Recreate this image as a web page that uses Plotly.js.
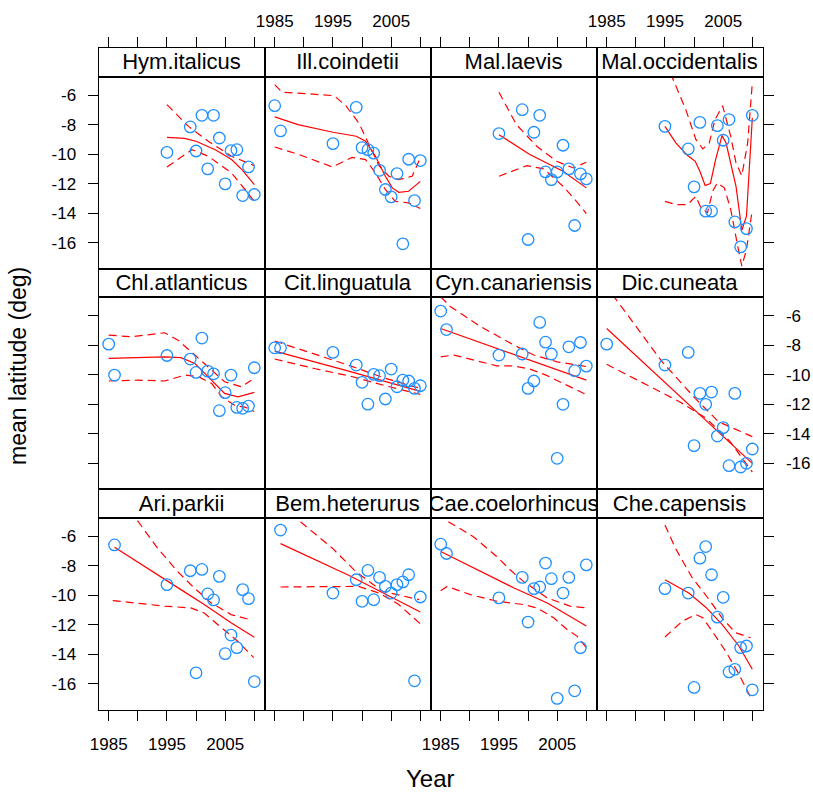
<!DOCTYPE html>
<html><head><meta charset="utf-8">
<script src="https://cdn.plot.ly/plotly-3.0.1.min.js"></script>
<style>html,body{margin:0;padding:0;background:#fff}#chart{width:813px;height:794px}</style>
</head><body><div id="chart"></div>
<script>
// ---------- categories & tick labels ----------
const species = ["Hym.italicus","Ill.coindetii","Mal.laevis","Mal.occidentalis",
                 "Chl.atlanticus","Cit.linguatula","Cyn.canariensis","Dic.cuneata",
                 "Ari.parkii","Bem.heterurus","Cae.coelorhincus","Che.capensis"];
const xTickVals = [1985,1990,1995,2000,2005,2010];
const xTickText = ["1985","","1995","","2005",""];
const yTickVals = [-6,-8,-10,-12,-14,-16];
const yTickText = ["-6","-8","-10","-12","-14","-16"];
const xTitle = "Year";
const yTitle = "mean latitude (deg)";

// ---------- data: observed points ----------
const hymYear = [1995,1999,2000,2001,2002,2003,2004,2005,2006,2007,2008,2009,2010];
const hymLat  = [-9.88,-8.16,-9.79,-7.37,-11.0,-7.37,-8.91,-12.02,-9.76,-9.70,-12.81,-10.87,-12.74];
const illYear = [1985,1986,1995,1999,2000,2001,2002,2003,2004,2005,2006,2007,2008,2009,2010];
const illLat  = [-6.72,-8.43,-9.29,-6.83,-9.56,-9.70,-9.94,-11.1,-12.4,-12.9,-11.32,-16.08,-10.35,-13.15,-10.44];
const malYear = [1995,1999,2000,2001,2002,2003,2004,2005,2006,2007,2008,2009,2010];
const malLat  = [-8.61,-6.99,-15.79,-8.52,-7.37,-11.21,-11.73,-11.21,-9.40,-11.0,-14.84,-11.34,-11.68];
const mocYear = [1995,1999,2000,2001,2002,2003,2004,2005,2006,2007,2008,2009,2010];
const mocLat  = [-8.12,-9.65,-12.22,-7.85,-13.87,-13.87,-8.07,-9.06,-7.66,-14.6,-16.29,-15.05,-7.37];
const chlYear = [1985,1986,1995,1999,2000,2001,2002,2003,2004,2005,2006,2007,2008,2009,2010];
const chlLat  = [-7.93,-10.03,-8.7,-8.94,-9.85,-7.52,-9.76,-9.94,-12.44,-11.22,-10.03,-12.22,-12.28,-12.13,-9.53];
const citYear = [1985,1986,1995,1999,2000,2001,2002,2003,2004,2005,2006,2007,2008,2009,2010];
const citLat  = [-8.18,-8.18,-8.49,-9.35,-10.52,-12.0,-9.98,-10.07,-11.65,-9.62,-10.82,-10.37,-10.43,-10.93,-10.75];
const cynYear = [1985,1986,1995,1999,2000,2001,2002,2003,2004,2005,2006,2007,2008,2009,2010];
const cynLat  = [-5.69,-6.94,-8.67,-8.6,-10.93,-10.43,-6.46,-7.8,-8.6,-15.67,-12.01,-8.11,-9.73,-7.82,-9.42];
const dicYear = [1985,1995,1999,2000,2001,2002,2003,2004,2005,2006,2007,2008,2009,2010];
const dicLat  = [-7.93,-9.35,-8.49,-14.81,-11.27,-12.01,-11.18,-14.16,-13.59,-16.17,-11.27,-16.26,-16.01,-15.04];
const ariYear = [1986,1995,1999,2000,2001,2002,2003,2004,2005,2006,2007,2008,2009,2010];
const ariLat  = [-6.59,-9.28,-8.34,-15.26,-8.25,-9.91,-10.32,-8.72,-13.96,-12.7,-13.55,-9.62,-10.23,-15.85];
const bemYear = [1986,1995,1999,2000,2001,2002,2003,2004,2005,2006,2007,2008,2009,2010];
const bemLat  = [-5.58,-9.85,-8.95,-10.41,-8.32,-10.3,-8.79,-9.4,-9.85,-9.28,-9.1,-8.61,-15.8,-10.12];
const caeYear = [1985,1986,1995,1999,2000,2001,2002,2003,2004,2005,2006,2007,2008,2009,2010];
const caeLat  = [-6.54,-7.17,-10.18,-8.79,-11.82,-9.55,-9.44,-7.82,-8.88,-16.99,-9.85,-8.79,-16.48,-13.55,-7.94];
const cheYear = [1995,1999,2000,2001,2002,2003,2004,2005,2006,2007,2008,2009,2010];
const cheLat  = [-9.55,-9.85,-16.25,-7.49,-6.7,-8.61,-11.49,-10.14,-15.2,-15.02,-13.55,-13.44,-16.41];

// ---------- data: fitted trend (solid) and bands (dashed), [year, lat] ----------
const hymFit = [[1995,-8.86],[1998,-8.93],[2000,-9.13],[2003.3,-9.70],[2006.1,-10.37],[2008,-11.1],[2010,-12.07]];
const hymUp  = [[1995,-6.65],[1998.7,-8.12],[2002.1,-9.13],[2006.1,-10.15],[2010,-10.78]];
const hymLo  = [[1995,-10.87],[1999.3,-9.70],[2002.1,-10.15],[2006.1,-11.28],[2008.4,-12.4],[2010,-13.2]];

const illFit = [[1985,-7.48],[1989,-8.0],[1995,-8.52],[1999,-8.79],[2000.6,-9.13],[2002.3,-10.15],[2004,-11.5],[2005.2,-12.29],[2006.3,-12.59],[2008,-12.52],[2010,-11.85]];
const illUp  = [[1985,-5.29],[1986.3,-5.81],[1990.3,-5.9],[1995.2,-6.04],[1997.2,-6.72],[1999.45,-7.89],[2001.2,-9.36],[2002.9,-10.78],[2004.6,-11.5],[2006.3,-11.73],[2008.6,-11.5],[2010,-10.26]];
const illLo  = [[1985,-9.52],[1989.15,-10.03],[1994.9,-10.87],[1998.3,-10.22],[2000.6,-10.37],[2002.3,-11.28],[2004,-12.4],[2005.7,-13.2],[2008,-13.31],[2010,-13.69]];

const malFit = [[1995,-8.68],[2000.3,-10.03],[2006,-11.16],[2010,-12.29]];
const malUp  = [[1995,-5.81],[1998,-8.0],[2001.5,-9.47],[2004.9,-10.49],[2007.8,-10.94],[2010,-10.55]];
const malLo  = [[1995,-11.5],[1999.8,-10.78],[2002.7,-11.0],[2006,-12.18],[2008.3,-13.2],[2010,-14.03]];

const mocFit = [[1995,-8.12],[1996.9,-9.25],[1998.9,-10.1],[2000.2,-10.49],[2001,-11.16],[2001.9,-12.13],[2002.8,-12.0],[2003.7,-10.37],[2004.8,-8.75],[2005.5,-9.25],[2007.2,-12.18],[2008.2,-15.16],[2009,-14.21],[2010,-7.55]];
const mocUp  = [[1995,-2.8],[1996.3,-4.84],[1998.6,-7.0],[2000.3,-9.0],[2001.5,-9.65],[2002.6,-9.25],[2003.6,-7.66],[2004.9,-6.72],[2006.3,-8.8],[2007.2,-10.6],[2008.2,-11.46],[2009.2,-9.25],[2010,-5.18]];
const mocLo  = [[1995,-13.2],[1996.9,-13.42],[1998.9,-13.42],[2000.3,-12.86],[2001.2,-13.65],[2002.3,-13.98],[2003.2,-12.52],[2004,-11.95],[2005.2,-12.29],[2006.3,-13.76],[2007.5,-16.25],[2008.2,-17.6],[2009,-16.47],[2010,-13.76]];

const chlFit = [[1985,-8.9],[1990,-8.83],[1994.6,-8.79],[1997.4,-8.85],[1999.8,-9.24],[2001.5,-9.91],[2003.3,-10.66],[2004.9,-11.27],[2007.2,-11.5],[2010,-11.2]];
const chlUp  = [[1985,-7.32],[1988.9,-7.43],[1994.6,-7.16],[1996.9,-7.66],[1999.8,-8.67],[2002.1,-9.5],[2004.9,-10.48],[2007.8,-10.82],[2009.5,-10.37]];
const chlLo  = [[1985,-10.43],[1990,-10.37],[1994.6,-10.43],[1998.1,-10.03],[2000.4,-10.14],[2002.7,-10.6],[2004.4,-11.5],[2006.7,-12.1],[2008.4,-12.2],[2010,-12.5]];

const citFit = [[1985,-8.4],[1997.7,-9.76],[2010,-11.13]];
const citUp  = [[1985,-7.72],[1992,-8.6],[1998,-9.4],[2004,-10.25],[2010,-10.93]];
const citLo  = [[1985,-8.94],[1992,-9.6],[1998,-10.1],[2004,-10.75],[2010,-11.34]];

const cynFit = [[1985,-6.87],[1997.5,-8.62],[2010,-10.37]];
const cynUp  = [[1985,-4.72],[1986.7,-5.4],[1991.9,-6.75],[1997.6,-8.0],[2001,-8.67],[2005,-9.13],[2008.5,-9.35],[2010,-9.45]];
const cynLo  = [[1985,-8.79],[1987.3,-8.67],[1994.6,-9.4],[1997.4,-9.4],[2000.3,-9.62],[2003.1,-10.03],[2006,-10.59],[2010,-11.35]];

const dicFit = [[1985,-6.87],[2010,-16.01]];
const dicUp  = [[1985,-3.8],[1986.4,-4.79],[1994.5,-9.12],[2000.2,-11.61],[2004.2,-13.19],[2010,-14.2]];
const dicLo  = [[1985,-9.3],[1991.8,-10.7],[1997.5,-11.83],[2002.1,-12.96],[2006.2,-14.54],[2010,-16.6]];

const ariFit = [[1986,-6.75],[1991.7,-8.16],[1997.4,-9.62],[2001.4,-10.63],[2006,-11.87],[2010,-12.85]];
const ariUp  = [[1986,-2.8],[1990.1,-5.01],[1993.4,-6.81],[1996.8,-8.38],[1999.7,-9.51],[2002.6,-10.52],[2006,-11.31],[2009.1,-11.64]];
const ariLo  = [[1985.7,-10.36],[1991.7,-10.59],[1994.6,-10.74],[1999.1,-10.86],[2001.4,-11.2],[2003.7,-11.98],[2007.1,-13.1],[2009.9,-14.23]];

const bemFit = [[1986,-6.5],[1997.7,-8.65],[2010,-11.13]];
const bemUp  = [[1986,-3.9],[1989.1,-4.9],[1994.9,-6.81],[1998.9,-8.39],[2003.5,-9.73],[2009.8,-10.3]];
const bemLo  = [[1986,-9.44],[1994.9,-9.44],[1999.4,-9.4],[2002.9,-9.85],[2006.3,-10.63],[2010,-11.94]];

const caeFit = [[1985,-7.04],[1991.9,-8.39],[1997.6,-9.51],[2003.3,-10.52],[2010,-12.09]];
const caeUp  = [[1985,-4.3],[1986.3,-5.01],[1990.6,-6.03],[1994.6,-7.37],[1996.9,-8.27],[1999.2,-9.06],[2003.3,-10.18],[2007.2,-10.74],[2010,-10.86]];
const caeLo  = [[1985,-9.69],[1986.1,-9.4],[1990.1,-9.96],[1994.7,-10.41],[1999.2,-10.63],[2001.5,-10.86],[2004.4,-11.53],[2006.7,-12.32],[2008.4,-12.77],[2010,-13.55]];

const cheFit = [[1995,-8.95],[1999.1,-9.85],[2002,-10.81],[2004.8,-11.98],[2007.7,-13.44],[2010,-15.02]];
const cheUp  = [[1995,-5.24],[1996.8,-6.81],[1999.7,-8.83],[2002.6,-10.3],[2004.8,-11.53],[2007.1,-12.54],[2009.7,-12.88]];
const cheLo  = [[1995,-12.83],[1998,-11.76],[2000.3,-11.31],[2001.5,-11.53],[2003.1,-12.43],[2005.4,-13.78],[2007.7,-15.35],[2010,-17.15]];

// ---------- assemble ----------
const pointYears = [hymYear,illYear,malYear,mocYear,chlYear,citYear,cynYear,dicYear,ariYear,bemYear,caeYear,cheYear];
const pointLats  = [hymLat,illLat,malLat,mocLat,chlLat,citLat,cynLat,dicLat,ariLat,bemLat,caeLat,cheLat];
const fits  = [hymFit,illFit,malFit,mocFit,chlFit,citFit,cynFit,dicFit,ariFit,bemFit,caeFit,cheFit];
const ups   = [hymUp,illUp,malUp,mocUp,chlUp,citUp,cynUp,dicUp,ariUp,bemUp,caeUp,cheUp];
const los   = [hymLo,illLo,malLo,mocLo,chlLo,citLo,cynLo,dicLo,ariLo,bemLo,caeLo,cheLo];

const W = 813, H = 794;
const xRange = [1983.25, 2011.75];
const yRange = [-17.78, -4.76];
const colEdges = [98.5, 264.5, 430.5, 596.5, 762.5];
const top0 = 48.3, rowH = 220.57, stripH = 28.5;
const FONT = "Liberation Sans, Arial, sans-serif";
const BLUE = "#1E90FF", RED = "#FF0000";
const tickFont = {family: FONT, size: 17, color: "#000"};

const traces = [];
const layout = {
  width: W, height: H, margin: {l:0, r:0, t:0, b:0},
  paper_bgcolor: "#fff", plot_bgcolor: "#fff",
  showlegend: false, hovermode: false,
  annotations: [
    {text: xTitle, xref: "paper", yref: "paper", x: 430.5/W, y: 1-778/H,
     showarrow: false, xanchor: "center", yanchor: "middle", font: {family: FONT, size: 24, color: "#000"}},
    {text: yTitle, xref: "paper", yref: "paper", x: 18/W, y: 1-366/H, textangle: -90,
     showarrow: false, xanchor: "center", yanchor: "middle", font: {family: FONT, size: 23, color: "#000"}}
  ]
};

function line(pts, xa, ya, dash) {
  return {x: pts.map(p => p[0]), y: pts.map(p => p[1]), xaxis: xa, yaxis: ya,
          type: "scatter", mode: "lines", hoverinfo: "skip",
          line: {color: RED, width: 1.2, dash: dash}};
}

for (let i = 0; i < 12; i++) {
  const r = Math.floor(i / 4), c = i % 4;
  const rowTop = top0 + r * rowH;
  const pTop = rowTop + stripH, pBot = rowTop + rowH;
  const xd = [colEdges[c] / W, colEdges[c+1] / W];
  const pn = i + 1, sn = i + 13;
  const px = "x" + pn, py = "y" + pn, sx = "x" + sn, sy = "y" + sn;

  // panel axes
  layout["xaxis" + pn] = {
    domain: xd, range: xRange, anchor: py, side: "bottom",
    showline: true, mirror: true, linecolor: "#000", linewidth: 1,
    showgrid: false, zeroline: false, fixedrange: true,
    ticks: r === 2 ? "outside" : "", ticklen: 10, tickwidth: 1, tickcolor: "#000",
    tickmode: "array", tickvals: xTickVals, ticktext: xTickText,
    showticklabels: r === 2 && (c === 0 || c === 2),
    tickfont: tickFont, ticklabelstandoff: 9
  };
  const ySide = c === 3 ? "right" : "left";
  layout["yaxis" + pn] = {
    domain: [1 - pBot / H, 1 - pTop / H], range: yRange, anchor: px, side: ySide,
    showline: true, mirror: true, linecolor: "#000", linewidth: 1,
    showgrid: false, zeroline: false, fixedrange: true,
    ticks: (c === 0 || c === 3) ? "outside" : "", ticklen: 10, tickwidth: 1, tickcolor: "#000",
    tickmode: "array", tickvals: yTickVals, ticktext: yTickText,
    showticklabels: (c === 0 && r !== 1) || (c === 3 && r === 1),
    tickfont: tickFont, ticklabelstandoff: c === 3 ? 9 : 8
  };
  // strip axes
  layout["xaxis" + sn] = {
    domain: xd, range: xRange, anchor: sy, side: "top",
    showline: true, mirror: true, linecolor: "#000", linewidth: 1,
    showgrid: false, zeroline: false, fixedrange: true,
    ticks: r === 0 ? "outside" : "", ticklen: 10, tickwidth: 1, tickcolor: "#000",
    tickmode: "array", tickvals: xTickVals, ticktext: xTickText,
    showticklabels: r === 0 && (c === 1 || c === 3),
    tickfont: tickFont, ticklabelstandoff: 4
  };
  layout["yaxis" + sn] = {
    domain: [1 - pTop / H, 1 - rowTop / H], range: [0, 1], anchor: sx,
    showline: true, mirror: true, linecolor: "#000", linewidth: 1,
    showgrid: false, zeroline: false, fixedrange: true,
    ticks: "", showticklabels: false
  };

  // strip label (clipped to the strip like lattice)
  traces.push({x: [(xRange[0] + xRange[1]) / 2], y: [0.45], text: [species[i]],
    xaxis: sx, yaxis: sy, type: "scatter", mode: "text", cliponaxis: true,
    textposition: "middle center", hoverinfo: "skip",
    textfont: {family: FONT, size: 22, color: "#000"}});

  // bands + fit
  traces.push(line(ups[i], px, py, "8px,5px"));
  traces.push(line(los[i], px, py, "8px,5px"));
  traces.push(line(fits[i], px, py, "solid"));
  // points
  traces.push({x: pointYears[i], y: pointLats[i], xaxis: px, yaxis: py,
    type: "scatter", mode: "markers", hoverinfo: "skip", cliponaxis: false,
    marker: {symbol: "circle-open", size: 11.5, color: BLUE, line: {width: 1.3, color: BLUE}}});
}

Plotly.newPlot("chart", traces, layout, {displayModeBar: false, staticPlot: true});
</script>
</body></html>
